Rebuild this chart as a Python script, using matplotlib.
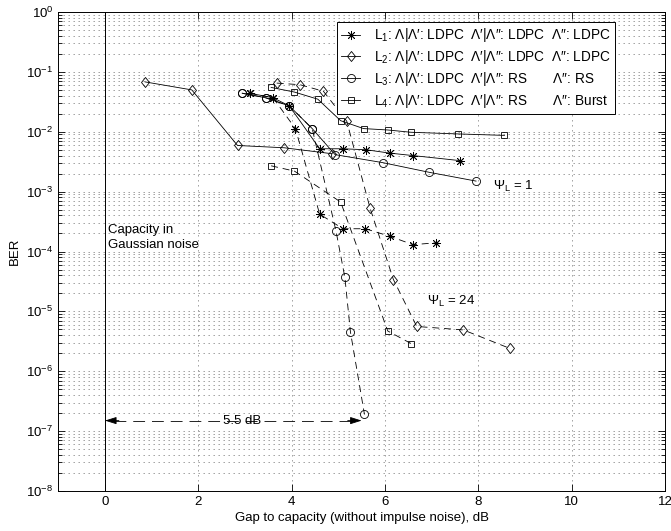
import numpy as np
import matplotlib
matplotlib.use("Agg")
import matplotlib.pyplot as plt
from matplotlib.path import Path
from matplotlib.ticker import LogLocator, NullFormatter, FixedLocator

plt.rcParams["font.family"] = ["Liberation Sans", "DejaVu Sans"]
plt.rcParams["mathtext.fontset"] = "custom"
plt.rcParams["mathtext.rm"] = "Liberation Sans"
plt.rcParams["mathtext.it"] = "Liberation Sans:italic"
plt.rcParams["mathtext.bf"] = "Liberation Sans:bold"
plt.rcParams["lines.scale_dashes"] = False

# ---- data: gap to capacity (dB) vs BER, solid = Psi_L 1, dashed = Psi_L 24 ----
l1_gap_psi1 = [3.1, 3.6, 3.95, 4.6, 5.1, 5.6, 6.1, 6.6, 7.6]
l1_ber_psi1 = [0.044, 0.037, 0.027, 5.2e-3, 5.2e-3, 5.0e-3, 4.4e-3, 4.0e-3, 3.3e-3]
l1_gap_psi24 = [3.1, 3.6, 4.08, 4.6, 5.1, 5.58, 6.1, 6.6, 7.1]
l1_ber_psi24 = [0.044, 0.037, 0.0113, 4.2e-4, 2.4e-4, 2.4e-4, 1.8e-4, 1.3e-4, 1.4e-4]

l2_gap_psi1 = [0.86, 1.86, 2.84, 3.84, 4.86]
l2_ber_psi1 = [0.068, 0.050, 5.9e-3, 5.4e-3, 4.3e-3]
l2_gap_psi24 = [3.68, 4.18, 4.68, 5.18, 5.68, 6.18, 6.68, 7.68, 8.68]
l2_ber_psi24 = [0.065, 0.061, 0.0475, 0.015, 5.3e-4, 3.4e-5, 5.6e-6, 4.9e-6, 2.4e-6]

l3_gap_psi1 = [2.94, 3.44, 3.95, 4.44, 4.93, 5.95, 6.95, 7.95]
l3_ber_psi1 = [0.044, 0.037, 0.027, 0.0113, 4.15e-3, 3.05e-3, 2.1e-3, 1.5e-3]
l3_gap_psi24 = [2.94, 3.44, 3.95, 4.44, 4.95, 5.14, 5.26, 5.56]
l3_ber_psi24 = [0.044, 0.037, 0.027, 0.0113, 2.2e-4, 3.7e-5, 4.5e-6, 1.9e-7]

l4_gap_psi1 = [3.56, 4.06, 4.56, 5.05, 5.54, 6.06, 6.56, 7.56, 8.56]
l4_ber_psi1 = [0.055, 0.046, 0.035, 0.0153, 0.0113, 0.0107, 9.8e-3, 9.2e-3, 8.7e-3]
l4_gap_psi24 = [3.56, 4.06, 5.05, 6.06, 6.56]
l4_ber_psi24 = [2.7e-3, 2.2e-3, 6.7e-4, 4.7e-6, 2.9e-6]

legend_labels = [
    "L$_\\mathregular{1}$: Λ|Λ′: LDPC  Λ′|Λ″: LDPC  Λ″: LDPC",
    "L$_\\mathregular{2}$: Λ|Λ′: LDPC  Λ′|Λ″: LDPC  Λ″: LDPC",
    "L$_\\mathregular{3}$: Λ|Λ′: LDPC  Λ′|Λ″: RS       Λ″: RS",
    "L$_\\mathregular{4}$: Λ|Λ′: LDPC  Λ′|Λ″: RS       Λ″: Burst",
]

x_ticks = [0, 2, 4, 6, 8, 10, 12]
y_ticks = [10.0 ** k for k in range(-8, 1)]
gap_arrow_db = 5.5
gap_arrow_ber = 1.5e-7

# ---- markers ----
tall_diamond = Path([(0, 1), (0.8, 0), (0, -1), (-0.8, 0), (0, 1)],
                    [Path.MOVETO, Path.LINETO, Path.LINETO, Path.LINETO, Path.CLOSEPOLY])
asterisk = (8, 2, 0)

fig = plt.figure(figsize=(6.71, 5.31), dpi=100)
ax = fig.add_axes([0.0869, 0.0753, 0.9042, 0.9021])

ax.set_yscale("log")
ax.set_xlim(-1, 12)
ax.set_ylim(1e-8, 1)
ax.xaxis.set_major_locator(FixedLocator(x_ticks))
ax.yaxis.set_major_locator(FixedLocator(y_ticks))
ax.yaxis.set_minor_locator(LogLocator(base=10, subs=np.arange(2, 10), numticks=100))
ax.yaxis.set_minor_formatter(NullFormatter())

grid_style = dict(linestyle=(0, (1, 2.6)), color="0.45", linewidth=0.5)
ax.grid(True, which="major", axis="both", **grid_style)
ax.grid(True, which="minor", axis="y", **grid_style)
ax.set_axisbelow(True)

ax.tick_params(which="both", direction="in", top=True, right=True, width=0.6,
               labelsize=9.5, colors="k")
ax.tick_params(which="major", length=5)
ax.tick_params(which="minor", length=3)
for sp in ax.spines.values():
    sp.set_linewidth(0.7)

# capacity reference line
ax.axvline(0, color="k", lw=0.7)

style = dict(color="k", mfc="none", mec="k", mew=0.6, lw=0.6)
dashed = (0, (5, 3.5))
groups = [
    (l1_gap_psi1, l1_ber_psi1, l1_gap_psi24, l1_ber_psi24, asterisk, 6.5),
    (l2_gap_psi1, l2_ber_psi1, l2_gap_psi24, l2_ber_psi24, tall_diamond, 7.2),
    (l3_gap_psi1, l3_ber_psi1, l3_gap_psi24, l3_ber_psi24, "o", 5.8),
    (l4_gap_psi1, l4_ber_psi1, l4_gap_psi24, l4_ber_psi24, "s", 5.0),
]
handles = []
for (g1, b1, g24, b24, mk, ms), lab in zip(groups, legend_labels):
    h, = ax.plot(g1, b1, marker=mk, ms=ms, ls="-", label=lab, **style)
    ax.plot(g24, b24, marker=mk, ms=ms, ls=dashed, **style)
    handles.append(h)

leg = ax.legend(handles=handles, loc="upper left", bbox_to_anchor=(0.459, 0.979),
                borderaxespad=0, fancybox=False, edgecolor="k", framealpha=1,
                fontsize=9.8, handlelength=1.4, handletextpad=1.0, borderpad=0.32,
                labelspacing=0.28)
leg.get_frame().set_linewidth(0.7)

# 5.5 dB gap arrow
ax.plot([0.2, gap_arrow_db - 0.2], [gap_arrow_ber] * 2, color="k", lw=0.6,
        ls=(0, (8.5, 5)))
for tip, tail in [(0, 0.3), (gap_arrow_db, gap_arrow_db - 0.3)]:
    ax.annotate("", xy=(tip, gap_arrow_ber), xytext=(tail, gap_arrow_ber),
                arrowprops=dict(arrowstyle="-|>,head_length=0.7,head_width=0.22",
                                color="k", lw=0.6, shrinkA=0, shrinkB=0,
                                mutation_scale=10))
ax.text(gap_arrow_db * 0.536, gap_arrow_ber, f"{gap_arrow_db} dB", ha="center",
        va="center", fontsize=9.5)

ax.text(0.07, 2.0e-4, "Capacity in", ha="left", va="baseline", fontsize=9.5)
ax.text(0.07, 1.14e-4, "Gaussian noise", ha="left", va="baseline", fontsize=9.5)
ax.text(8.31, 1.07e-3, "Ψ$_\\mathregular{L}$ = 1", ha="left", va="baseline", fontsize=9.5)
ax.text(6.89, 1.28e-5, "Ψ$_\\mathregular{L}$ = 24", ha="left", va="baseline", fontsize=9.5)

ax.set_xlabel("Gap to capacity (without impulse noise), dB", fontsize=9.5, labelpad=3)
ax.set_ylabel("BER", fontsize=9.5, labelpad=4)

fig.savefig("out.png", dpi=100)
